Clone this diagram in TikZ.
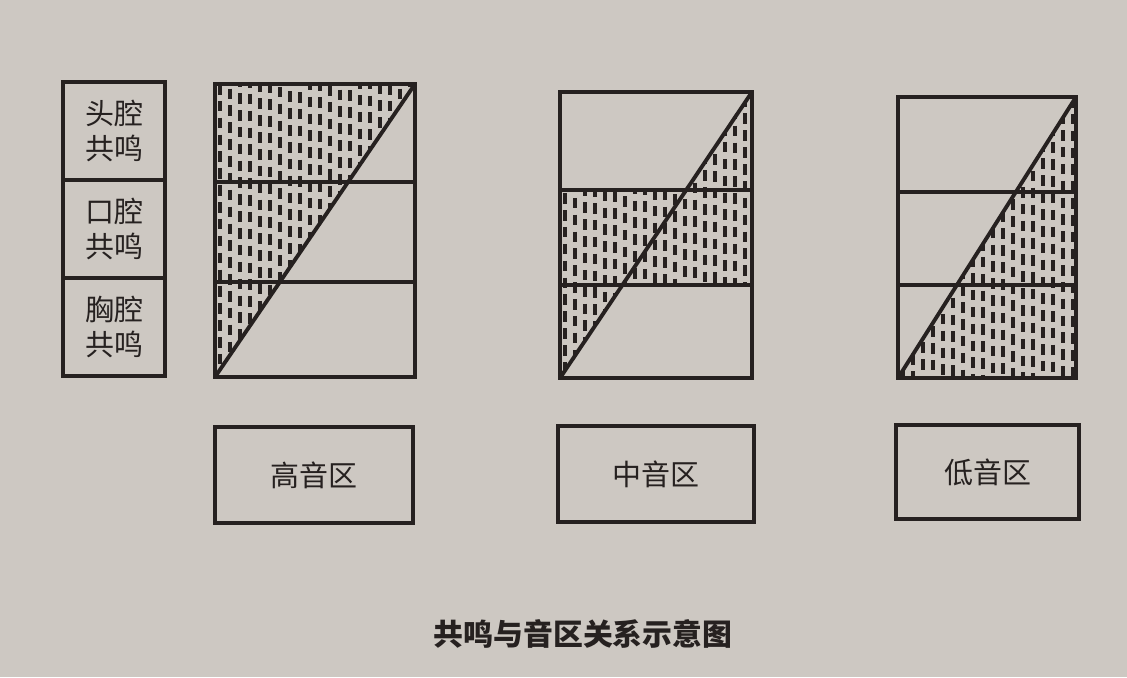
\documentclass[tikz,border=0pt]{standalone}
\usepackage{fontspec}
\newfontfamily\cjk{Noto Sans CJK SC}
\usetikzlibrary{positioning}
\definecolor{paper}{RGB}{205,200,194}
\definecolor{ink}{RGB}{38,33,32}
\tikzset{
  ink line/.style={draw=ink, line width=2.2pt},
  cell/.style={ink line, minimum width=2.04cm, minimum height=1.96cm, outer sep=0pt,
    align=center, text=ink, font=\cjk\fontsize{16.5}{19.5}\selectfont},
  rangebox/.style={ink line, minimum width=3.96cm, minimum height=1.92cm, outer sep=0pt,
    text=ink, font=\cjk\fontsize{16.5}{19.5}\selectfont},
  dashcol/.style={draw=ink, line width=2.1pt, dash pattern=on 6pt off 3.6pt},
}
% vertical dash columns between x=#1..#2, y=#3..#4
\newcommand{\dashcols}[4]{%
  \pgfmathtruncatemacro{\ncol}{(#2-#1)/10}%
  \foreach \k in {0,...,\ncol}{%
    \pgfmathsetmacro{\ph}{mod(\k*7,17)}%
    \draw[dashcol, dash phase=\ph pt] ({#1+5+10*\k},#3) -- ({#1+5+10*\k},#4);
  }%
}

\begin{document}
\begin{tikzpicture}[x=0.02cm, y=-0.02cm]
	\fill[paper] (0,0) rectangle (1127,677);
	% resonance cells
	\node (head) [cell] at (114,131) {头腔\\共鸣};
	\node (mouth) [cell, below=0pt of head] {口腔\\共鸣};
	\node (chest) [cell, below=0pt of mouth] {胸腔\\共鸣};
	% high register
	\begin{scope}
		\clip (215,84) -- (415,84) -- (215,377) -- cycle;
		\dashcols{215}{415}{84}{377}
	\end{scope}
	\draw[ink line] (215,84) rectangle (415,377);
	\draw[ink line] (215,182) -- (415,182) (215,282) -- (415,282);
	\draw[ink line] (215,377) -- (415,84);
	% middle register
	\begin{scope}
		\clip (752,92) -- (752,285) -- (622.4,285) -- (560,378) -- (560,190) -- (686.2,190) -- cycle;
		\dashcols{560}{752}{92}{378}
	\end{scope}
	\draw[ink line] (560,92) rectangle (752,378);
	\draw[ink line] (560,190) -- (752,190) (560,285) -- (752,285);
	\draw[ink line] (560,378) -- (752,92);
	% low register
	\begin{scope}
		\clip (898,378) -- (1076,97) -- (1076,378) -- cycle;
		\dashcols{898}{1076}{97}{378}
	\end{scope}
	\draw[ink line] (898,97) rectangle (1076,378);
	\draw[ink line] (898,192) -- (1076,192) (898,285) -- (1076,285);
	\draw[ink line] (898,378) -- (1076,97);
	% register names
	\node (high) [rangebox] at (314,475) {高音区};
	\node (mid) [rangebox, minimum width=3.92cm] at (656,474) {中音区};
	\node (low) [rangebox, minimum width=3.66cm, minimum height=1.88cm] at (987.5,472) {低音区};
	\node (caption) at (583,634) [text=ink, font=\cjk\bfseries\fontsize{17}{20}\selectfont] {共鸣与音区关系示意图};
\end{tikzpicture}
\end{document}
